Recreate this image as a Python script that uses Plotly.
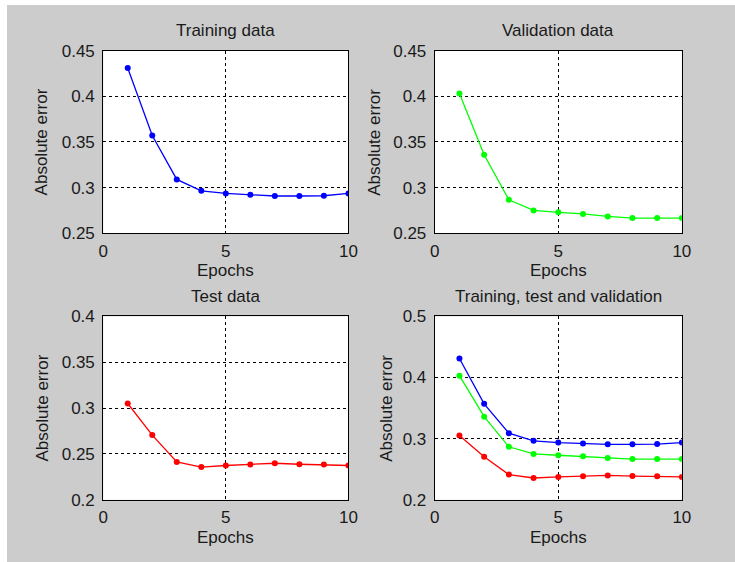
import plotly.graph_objects as go

# page offset of the grey figure (white strip on the left and top)
OX, OY = 7, 5
W, H = 735 - OX, 562 - OY

epochs = [1, 2, 3, 4, 5, 6, 7, 8, 9, 10]
training_error = [0.431, 0.357, 0.309, 0.2965, 0.2936, 0.2922, 0.2908, 0.2908, 0.2911, 0.2936]
validation_error = [0.403, 0.336, 0.2867, 0.2750, 0.2729, 0.2712, 0.2684, 0.2666, 0.2666, 0.2666]
test_error = [0.305, 0.2706, 0.2413, 0.2357, 0.2374, 0.2385, 0.2399, 0.2388, 0.2385, 0.2374]

titles = ["Training data", "Validation data", "Test data", "Training, test and validation"]
x_ticks = [0, 5, 10]
y_ticks_top = [0.25, 0.3, 0.35, 0.4, 0.45]
y_ticks_test = [0.2, 0.25, 0.3, 0.35, 0.4]
y_ticks_all = [0.2, 0.3, 0.4, 0.5]

BLUE, GREEN, RED = "#0000ff", "#00ff00", "#ff0000"
FONT = "Liberation Sans, Arial, sans-serif"
TXT = "#1a1a1a"
FS = 17

# page-pixel boxes (left, right, top, bottom)
boxes = [(100, 350, 43, 232), (438, 690, 43, 232), (100, 350, 318, 508), (438, 690, 318, 508)]

def px_x(p):
    return (p - OX) / W

def px_y(p):
    return 1 - (p - OY) / H

fig = go.Figure()

def add(i, y, color):
    sfx = "" if i == 0 else str(i + 1)
    fig.add_trace(go.Scatter(x=epochs, y=y, mode="lines+markers",
                             line=dict(color=color, width=1.3),
                             marker=dict(color=color, size=6),
                             xaxis="x" + sfx, yaxis="y" + sfx, showlegend=False))

add(0, training_error, BLUE)
add(1, validation_error, GREEN)
add(2, test_error, RED)
add(3, training_error, BLUE)
add(3, validation_error, GREEN)
add(3, test_error, RED)

yticks = [y_ticks_top, y_ticks_top, y_ticks_test, y_ticks_all]
ylab_x = [38, 377, 38, 388]

layout = dict(
    width=W, height=H,
    margin=dict(l=0, r=0, t=0, b=0),
    paper_bgcolor="#cccccc",
    plot_bgcolor="#ffffff",
    font=dict(family=FONT, size=FS, color=TXT),
    showlegend=False,
)

annotations = []
for i, (l, r, t, b) in enumerate(boxes):
    sfx = "" if i == 0 else str(i + 1)
    yt = yticks[i]
    axis_common = dict(showline=True, linecolor="#000000", linewidth=1, mirror=True,
                       showgrid=True, gridcolor="#000000", gridwidth=1, griddash="3px,3px",
                       zeroline=False, ticks="", tickfont=dict(family=FONT, size=FS, color=TXT),
                       fixedrange=True)
    layout["xaxis" + sfx] = dict(axis_common, domain=[px_x(l), px_x(r)], range=[0, 10],
                                 tickvals=x_ticks, ticktext=[str(v) for v in x_ticks],
                                 anchor="y" + sfx, ticklabelstandoff=2)
    layout["yaxis" + sfx] = dict(axis_common, domain=[px_y(b), px_y(t)], range=[yt[0], yt[-1]],
                                 tickvals=yt, ticktext=[("%g" % v) for v in yt],
                                 anchor="x" + sfx, ticklabelstandoff=4)
    cx = (l + r) / 2
    annotations.append(dict(text=titles[i], x=px_x(cx), y=px_y(t - 21), xref="paper", yref="paper",
                            showarrow=False, xanchor="center", yanchor="middle",
                            font=dict(family=FONT, size=FS, color=TXT)))
    annotations.append(dict(text="Epochs", x=px_x(cx), y=px_y(b + 39), xref="paper", yref="paper",
                            showarrow=False, xanchor="center", yanchor="middle",
                            font=dict(family=FONT, size=FS, color=TXT)))
    annotations.append(dict(text="Absolute error", x=px_x(ylab_x[i]), y=px_y((t + b) / 2),
                            xref="paper", yref="paper", textangle=-90,
                            showarrow=False, xanchor="center", yanchor="middle",
                            font=dict(family=FONT, size=FS, color=TXT)))

layout["annotations"] = annotations

fig.update_layout(**layout)
fig.write_html("out.html",
               config={"displayModeBar": False},
               post_script="document.body.style.margin='%dpx 0 0 %dpx';"
                           "document.body.style.overflow='hidden';" % (OY, OX))
